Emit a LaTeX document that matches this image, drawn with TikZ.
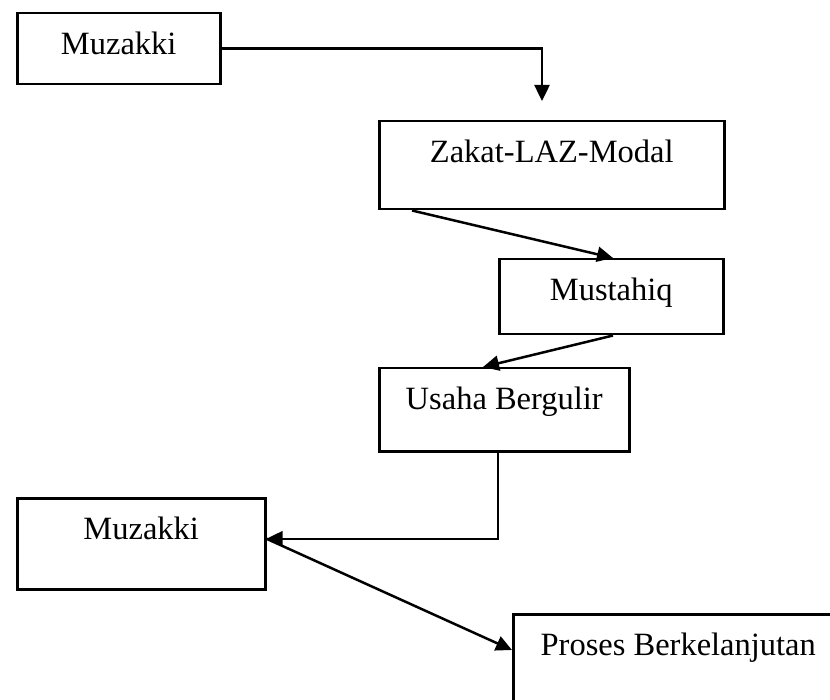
\documentclass[tikz,border=0pt]{standalone}
\usepackage{fontspec}
\setmainfont{Liberation Serif}
\usetikzlibrary{arrows.meta}
\tikzset{
  kotak/.style={draw, line width=2.5pt, inner sep=0pt, anchor=north west, text height=41pt, font=\fontsize{32.5}{38}\selectfont},
  panah/.style={line width=2.5pt, -{Triangle[length=16pt,width=15pt]}},
  garis/.style={line width=2.5pt}
}
\begin{document}
\begin{tikzpicture}[x=1pt,y=-1pt]
  \clip (0,0) rectangle (830,700);
  \node[kotak, minimum width=203pt, text depth=30pt] (muzakkiA) at (16,12) {Muzakki}; %atas
  \node[kotak, minimum width=345pt, text depth=47pt] (zakat) at (378,120) {Zakat-LAZ-Modal};
  \node[kotak, minimum width=224pt, text depth=34pt] (mustahiq) at (498,258) {Mustahiq};
  \node[kotak, minimum width=250pt, text depth=42pt] (usaha) at (378,367) {Usaha Bergulir};
  \node[kotak, minimum width=248pt, text depth=50pt] (muzakkiB) at (16,497) {Muzakki}; %bawah
  \node[kotak, minimum width=330pt, text depth=60pt] (proses) at (512,613) {Proses Berkelanjutan};
  \coordinate (ujung) at (542,101);
  \draw[panah] (muzakkiA.east) -| (ujung);
  \draw[panah] ([xshift=34pt]zakat.south west) -- ([xshift=115pt]mustahiq.north west);
  \draw[panah] ([xshift=115pt]mustahiq.south west) -- ([xshift=105pt]usaha.north west);
  \draw[panah] ([xshift=120pt]usaha.south west) |- ([yshift=5pt]muzakkiB.east);
  \draw[panah] ([yshift=5pt]muzakkiB.east) -- ([yshift=-37pt]proses.north west);
\end{tikzpicture}
\end{document}
